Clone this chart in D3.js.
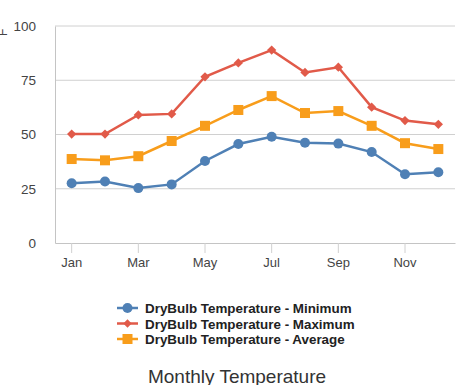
<!DOCTYPE html>
<html>
<head>
<meta charset="utf-8">
<script src="https://cdn.jsdelivr.net/npm/d3@7"></script>
<style>
  body { margin: 0; background: #fff; }
  svg { display: block; font-family: "Liberation Sans", Arial, sans-serif; }
</style>
</head>
<body>
<svg id="chart" width="473" height="385"></svg>
<script>
// data
var months = ['Jan','Feb','Mar','Apr','May','Jun','Jul','Aug','Sep','Oct','Nov','Dec'];
var minTemp = [27.5, 28.3, 25.3, 27, 37.8, 45.6, 49, 46.2, 45.8, 41.9, 31.7, 32.6];
var maxTemp = [50.2, 50.2, 59, 59.5, 76.6, 83, 88.9, 78.6, 81, 62.6, 56.4, 54.7];
var avgTemp = [38.7, 38.1, 40, 47, 54, 61.3, 67.7, 59.9, 60.8, 54, 46, 43.3];
var yTicks = [0, 25, 50, 75, 100];
var xTickLabels = ['Jan','Mar','May','Jul','Sep','Nov'];

var series = [
  {name: 'DryBulb Temperature - Minimum', values: minTemp, color: '#4f80b5', shape: 'circle'},
  {name: 'DryBulb Temperature - Maximum', values: maxTemp, color: '#e15a49', shape: 'diamond'},
  {name: 'DryBulb Temperature - Average', values: avgTemp, color: '#f89d1b', shape: 'square'}
];

var svg = d3.select('#chart');
var plotL = 55, plotR = 455, plotT = 26, plotB = 243;

var x = d3.scaleBand().domain(months).range([plotL, plotR]).padding(0);
var y = d3.scaleLinear().domain([0, 100]).range([plotB, plotT]);
var cx = function(m) { return x(m) + x.bandwidth() / 2; };

// grid
svg.append('g').selectAll('line').data(yTicks.slice(1)).join('line')
  .attr('x1', plotL).attr('x2', plotR)
  .attr('y1', d => y(d)).attr('y2', d => y(d))
  .attr('stroke', '#d0d0d0').attr('stroke-width', 1);

// axes
var yAxis = svg.append('g').attr('transform', 'translate(' + plotL + ',0)')
  .call(d3.axisLeft(y).tickValues(yTicks).tickSize(0).tickPadding(19));
yAxis.select('.domain').attr('stroke', '#c4c4c4');
yAxis.selectAll('text').attr('font-size', 13.5).attr('fill', '#444')
  .attr('font-family', '"Liberation Sans", Arial, sans-serif');

var xAxis = svg.append('g').attr('transform', 'translate(0,' + plotB + ')')
  .call(d3.axisBottom(x).tickValues(xTickLabels).tickSize(10).tickPadding(5).tickSizeOuter(0));
xAxis.select('.domain').attr('stroke', '#c4c4c4');
xAxis.selectAll('.tick line').attr('stroke', '#d0d0d0');
xAxis.selectAll('text').attr('font-size', 13).attr('fill', '#444')
  .attr('font-family', '"Liberation Sans", Arial, sans-serif');

// axis title, mostly cut off by the left edge
svg.append('text')
  .attr('transform', 'translate(7,36) rotate(-90)')
  .attr('text-anchor', 'start')
  .attr('font-size', 12).attr('fill', '#444')
  .text('F');

var line = d3.line().x((d, i) => cx(months[i])).y(d => y(d));

function marker(g, shape, color, size) {
  if (shape == 'circle') {
    g.append('circle').attr('r', size).attr('fill', color);
  } else if (shape == 'square') {
    g.append('rect').attr('x', -size).attr('y', -size)
      .attr('width', size * 2).attr('height', size * 2).attr('fill', color);
  } else {
    g.append('path').attr('d', d3.symbol(d3.symbolDiamond2, size * size * 2.2)())
      .attr('fill', color);
  }
}

series.forEach(function(s) {
  svg.append('path')
    .attr('d', line(s.values))
    .attr('fill', 'none')
    .attr('stroke', s.color)
    .attr('stroke-width', 2.5);
  s.values.forEach(function(v, i) {
    var g = svg.append('g').attr('transform', 'translate(' + cx(months[i]) + ',' + y(v) + ')');
    marker(g, s.shape, s.color, 5);
  });
});

// legend
var legend = svg.append('g');
series.forEach(function(s, i) {
  var ly = 308 + i * 15.5;
  legend.append('line').attr('x1', 117).attr('x2', 138).attr('y1', ly).attr('y2', ly)
    .attr('stroke', s.color).attr('stroke-width', 2.5);
  var g = legend.append('g').attr('transform', 'translate(127.5,' + ly + ')');
  marker(g, s.shape, s.color, s.shape == 'diamond' ? 4.5 : 5);
  legend.append('text').attr('x', 145).attr('y', ly + 5)
    .attr('font-size', 13.4).attr('font-weight', 'bold').attr('fill', '#222')
    .text(s.name);
});

// title
svg.append('text')
  .attr('x', 237).attr('y', 383)
  .attr('text-anchor', 'middle')
  .attr('font-size', 19).attr('fill', '#333')
  .text('Monthly Temperature');
</script>
</body>
</html>
